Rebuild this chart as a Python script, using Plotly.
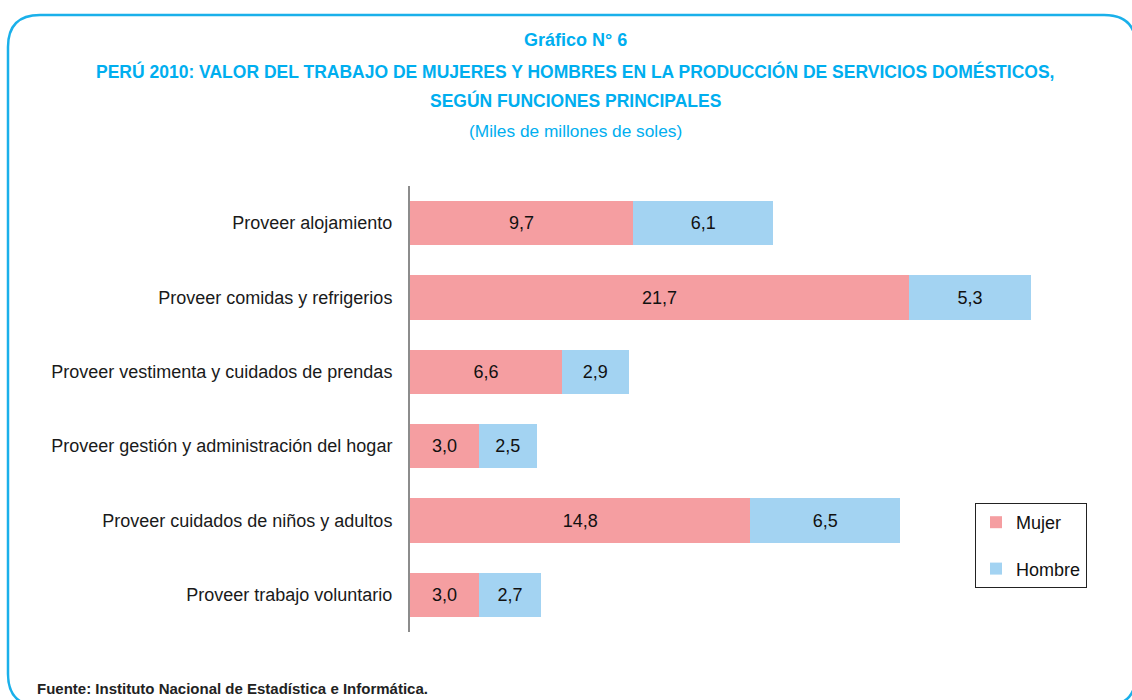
import plotly.graph_objects as go

categories = [
    "Proveer alojamiento",
    "Proveer comidas y refrigerios",
    "Proveer vestimenta y cuidados de prendas",
    "Proveer gestión y administración del hogar",
    "Proveer cuidados de niños y adultos",
    "Proveer trabajo voluntario",
]
mujer = [9.7, 21.7, 6.6, 3.0, 14.8, 3.0]
hombre = [6.1, 5.3, 2.9, 2.5, 6.5, 2.7]

W, H = 1132, 700
ML, MR, MT, MB = 410, 12, 186, 68
PW, PH = W - ML - MR, H - MT - MB
PX_PER_UNIT = 23.0

def fx(px):
    return (px - ML) / PW

def fy(py):
    return (H - MB - py) / PH

def fmt(v):
    return f"{v:.1f}".replace(".", ",")

FONT = "Liberation Sans, Arial, sans-serif"
CYAN = "#00AEEF"

fig = go.Figure()
fig.add_trace(go.Bar(
    y=categories, x=mujer, orientation="h", name="Mujer",
    marker=dict(color="#F59EA1", line=dict(width=0)),
    text=[fmt(v) for v in mujer], textposition="inside", insidetextanchor="middle",
    textfont=dict(color="#111", size=18, family=FONT), legendgroup="m",
    hoverinfo="skip",
))
fig.add_trace(go.Bar(
    y=categories, x=hombre, orientation="h", name="Hombre",
    marker=dict(color="#A3D3F2", line=dict(width=0)),
    text=[fmt(v) for v in hombre], textposition="inside", insidetextanchor="middle",
    textfont=dict(color="#111", size=18, family=FONT), legendgroup="h",
    hoverinfo="skip",
))

# rounded border path (pixel coords -> paper)
x0, x1, y0, y1, r = 8, 1136, 15, 706, 32
pts = [
    f"M {fx(x0)},{fy(y0 + r)}",
    f"Q {fx(x0)},{fy(y0)} {fx(x0 + r)},{fy(y0)}",
    f"L {fx(x1 - r)},{fy(y0)}",
    f"Q {fx(x1)},{fy(y0)} {fx(x1)},{fy(y0 + r)}",
    f"L {fx(x1)},{fy(y1 - r)}",
    f"Q {fx(x1)},{fy(y1)} {fx(x1 - r)},{fy(y1)}",
    f"L {fx(x0 + r)},{fy(y1)}",
    f"Q {fx(x0)},{fy(y1)} {fx(x0)},{fy(y1 - r)}",
    "Z",
]
fig.add_shape(type="path", path=" ".join(pts), xref="paper", yref="paper",
              line=dict(color="#1AB0EA", width=2.5), layer="below")

anns = [
    ("<b>Gráfico N° 6</b>", 40, 18, CYAN),
    ("<b>PERÚ 2010: VALOR DEL TRABAJO DE MUJERES Y HOMBRES EN LA PRODUCCIÓN DE SERVICIOS DOMÉSTICOS,</b>", 71, 17.5, CYAN),
    ("<b>SEGÚN FUNCIONES PRINCIPALES</b>", 100, 17.5, CYAN),
    ("(Miles de millones de soles)", 131, 17.3, CYAN),
]
for text, py, size, color in anns:
    fig.add_annotation(text=text, x=fx(575), y=fy(py), xref="paper", yref="paper",
                       xanchor="center", yanchor="middle", showarrow=False,
                       font=dict(size=size, color=color, family=FONT))
fig.add_annotation(text="<b>Fuente: Instituto Nacional de Estadística e Informática.</b>",
                   x=fx(35), y=fy(688), xref="paper", yref="paper",
                   xanchor="left", yanchor="middle", showarrow=False,
                   font=dict(size=15, color="#222", family=FONT))

fig.update_layout(
    width=W, height=H, barmode="stack", bargap=0.4,
    margin=dict(l=ML, r=MR, t=MT, b=MB),
    paper_bgcolor="white", plot_bgcolor="white",
    font=dict(family=FONT, size=18, color="#1a1a1a"),
    showlegend=True,
    legend=dict(x=fx(975), y=fy(503), xanchor="left", yanchor="top",
                bordercolor="#222", borderwidth=1, bgcolor="white",
                font=dict(size=18, family=FONT, color="#111"),
                traceorder="grouped", tracegroupgap=20,
                itemwidth=30),
    xaxis=dict(range=[0, PW / PX_PER_UNIT], visible=False, fixedrange=True),
    yaxis=dict(categoryorder="array", categoryarray=categories, autorange="reversed",
               showline=True, linecolor="#8c8c8c", linewidth=2, ticks="",
               ticklabelstandoff=12, showgrid=False, zeroline=False, fixedrange=True,
               tickfont=dict(size=18, family=FONT, color="#1a1a1a")),
)

fig.write_html("out.html", config={"displayModeBar": False},
               post_script="document.body.style.margin='0';")
